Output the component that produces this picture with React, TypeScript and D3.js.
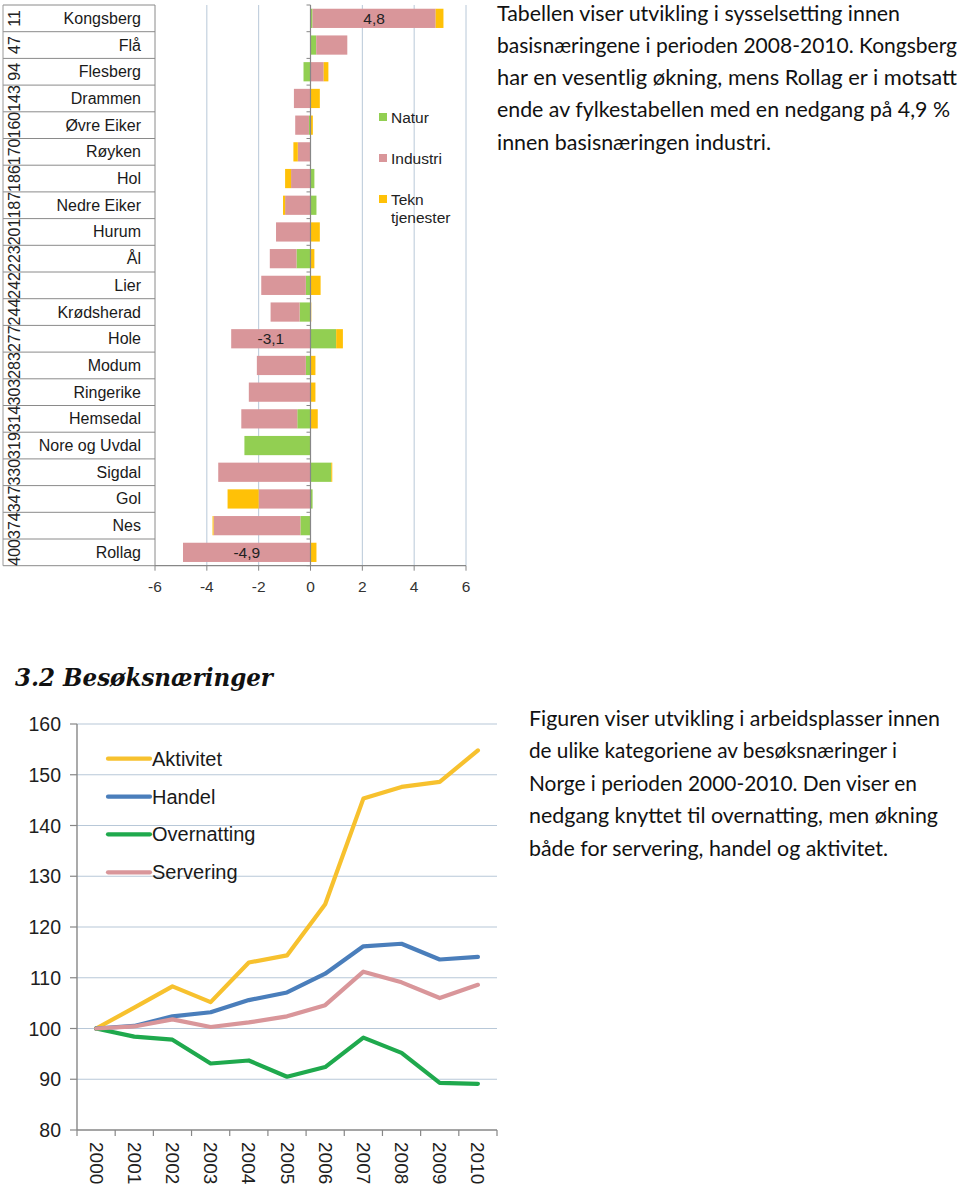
import React from 'react';
import * as d3 from 'd3';

// ---------- Bar chart data (utvikling sysselsetting basisnæringer 2008-2010) ----------
const kommuner = ['Kongsberg', 'Flå', 'Flesberg', 'Drammen', 'Øvre Eiker', 'Røyken', 'Hol', 'Nedre Eiker', 'Hurum', 'Ål', 'Lier', 'Krødsherad', 'Hole', 'Modum', 'Ringerike', 'Hemsedal', 'Nore og Uvdal', 'Sigdal', 'Gol', 'Nes', 'Rollag'];
const rangNr = ['11', '47', '94', '143', '160', '170', '186', '187', '201', '223', '242', '244', '277', '283', '303', '314', '319', '330', '347', '374', '400'];
const natur = [0.08, 0.22, -0.27, 0, -0.06, 0, 0.15, 0.23, 0, -0.54, -0.18, -0.42, 0.99, -0.18, 0, -0.51, -2.55, 0.8, 0.08, -0.39, 0];
const industri = [4.75, 1.2, 0.51, -0.64, -0.53, -0.49, -0.75, -0.98, -1.33, -1.03, -1.72, -1.12, -3.06, -1.89, -2.38, -2.16, 0, -3.56, -2.0, -3.35, -4.92];
const teknTjenester = [0.3, 0, 0.18, 0.36, 0.09, -0.17, -0.23, -0.08, 0.36, 0.15, 0.39, 0.03, 0.26, 0.19, 0.19, 0.28, 0, 0.04, -1.2, -0.04, 0.23];
const barSeries = ['Natur', 'Industri', 'Tekn tjenester'];
const barColors = ['#92cf52', '#d9969a', '#ffc107'];
const barTicks = [-6, -4, -2, 0, 2, 4, 6];
const labelledKommuner = ['Kongsberg', 'Hole', 'Rollag'];

// ---------- Line chart data (besøksnæringer 2000-2010, indeks 2000=100) ----------
const years = ['2000', '2001', '2002', '2003', '2004', '2005', '2006', '2007', '2008', '2009', '2010'];
const aktivitet = [100, 104.1, 108.3, 105.2, 113.0, 114.4, 124.5, 145.3, 147.6, 148.6, 154.8];
const handel = [100, 100.5, 102.4, 103.2, 105.6, 107.1, 110.8, 116.2, 116.7, 113.6, 114.1];
const overnatting = [100, 98.4, 97.8, 93.1, 93.7, 90.5, 92.4, 98.2, 95.2, 89.3, 89.1];
const servering = [100, 100.4, 101.8, 100.3, 101.2, 102.4, 104.6, 111.2, 109.1, 106.0, 108.6];
const lineNames = ['Aktivitet', 'Handel', 'Overnatting', 'Servering'];
const lineColors = ['#f7c12e', '#4a7ebb', '#1fa94d', '#d9969a'];
const lineTicks = [80, 90, 100, 110, 120, 130, 140, 150, 160];

// ---------- Texts ----------
const introLines = [
  'Tabellen viser utvikling i sysselsetting innen',
  'basisnæringene i perioden 2008-2010. Kongsberg',
  'har en vesentlig økning, mens Rollag er i motsatt',
  'ende av fylkestabellen med en nedgang på 4,9 %',
  'innen basisnæringen industri.',
];
const heading = '3.2 Besøksnæringer';
const figLines = [
  'Figuren viser utvikling i arbeidsplasser innen',
  'de ulike kategoriene av besøksnæringer i',
  'Norge i perioden 2000-2010. Den viser en',
  'nedgang knyttet til overnatting, men økning',
  'både for servering, handel og aktivitet.',
];

// layout (widths measured from reference)
const introWidths = [403, 460, 460, 453, 274];
const figWidths = [411, 368, 388, 409, 359];

const SANS = '"Liberation Sans", Arial, sans-serif';
const BODY = 'Lato, "Open Sans", sans-serif';

const noLocale = d3.formatLocale({ decimal: ',', thousands: ' ', grouping: [3], currency: ['', ' kr'], minus: '-' });

function BarChart() {
  const x = d3.scaleLinear().domain([-6, 6]).range([155, 466]);
  const y = d3.scaleBand<string>().domain(kommuner).range([5, 565.7]).paddingInner(0.28).paddingOuter(0.14);
  const step = y.step();
  const rows = kommuner.map((k, i) => ({
    k,
    Natur: natur[i],
    Industri: industri[i],
    'Tekn tjenester': teknTjenester[i],
  }));
  const stacked = d3.stack<any>().keys(barSeries).offset(d3.stackOffsetDiverging)(rows);
  const top = y.range()[0];
  const bottom = y.range()[1];
  const boundaries = d3.range(kommuner.length + 1).map((i) => top + i * step);
  const fmt = noLocale.format('.1f');

  return (
    <g>
      {/* gridlines */}
      {barTicks.filter((t) => t !== 0 && t !== -6).map((t) => (
        <line key={'g' + t} x1={x(t)} x2={x(t)} y1={top} y2={bottom} stroke="#b8c8d8" strokeWidth={1} />
      ))}
      {/* table lines */}
      {boundaries.map((b, i) => (
        <line key={'r' + i} x1={3} x2={155} y1={b} y2={b} stroke="#8a8a8a" strokeWidth={1} />
      ))}
      <line x1={3} x2={3} y1={top} y2={bottom} stroke="#9a9a9a" strokeWidth={1} />
      <line x1={155} x2={155} y1={top} y2={bottom} stroke="#8a8a8a" strokeWidth={1} />
      {/* bars */}
      {stacked.map((s, si) => (
        <g key={s.key} fill={barColors[si]}>
          {s.map((d, i) => {
            const x0 = x(Math.min(d[0], d[1]));
            const x1 = x(Math.max(d[0], d[1]));
            if (x1 - x0 <= 0) return null;
            return <rect key={i} x={x0} width={x1 - x0} y={y(d.data.k)} height={y.bandwidth()} />;
          })}
        </g>
      ))}
      {/* data labels for industri */}
      {stacked[1].map((d, i) =>
        labelledKommuner.includes(d.data.k) ? (
          <text key={'l' + i} x={x((d[0] + d[1]) / 2)} y={(y(d.data.k) as number) + y.bandwidth() / 2 + 5.5}
            textAnchor="middle" fontFamily={SANS} fontSize={15.5} fill="#222">
            {fmt(industri[i])}
          </text>
        ) : null
      )}
      {/* zero axis */}
      <line x1={x(0)} x2={x(0)} y1={top} y2={bottom} stroke="#878787" strokeWidth={1.2} />
      {boundaries.map((b, i) => (
        <line key={'zt' + i} x1={x(0) - 4} x2={x(0)} y1={b} y2={b} stroke="#878787" strokeWidth={1} />
      ))}
      {/* bottom axis */}
      <line x1={x(-6)} x2={x(6)} y1={bottom} y2={bottom} stroke="#878787" strokeWidth={1.2} />
      {barTicks.map((t) => (
        <g key={'t' + t}>
          <line x1={x(t)} x2={x(t)} y1={bottom} y2={bottom + 5} stroke="#878787" strokeWidth={1} />
          <text x={x(t)} y={bottom + 26} textAnchor="middle" fontFamily={SANS} fontSize={15.5} fill="#333">
            {noLocale.format('d')(t)}
          </text>
        </g>
      ))}
      {/* category labels */}
      {kommuner.map((k) => (
        <text key={'c' + k} x={141} y={(y(k) as number) + y.bandwidth() / 2 + 5.5} textAnchor="end"
          fontFamily={SANS} fontSize={16} fill="#1a1a1a">
          {k}
        </text>
      ))}
      {/* rotated numbers */}
      {kommuner.map((k, i) => {
        const cy = (y(k) as number) + y.bandwidth() / 2;
        return (
          <text key={'n' + k} transform={`translate(14,${cy}) rotate(-90)`} textAnchor="middle"
            dominantBaseline="central" fontFamily={SANS} fontSize={16} fill="#222">
            {rangNr[i]}
          </text>
        );
      })}
      {/* legend */}
      {barSeries.map((s, i) => {
        const cy = [117, 158, 199][i];
        const words = s === 'Tekn tjenester' ? ['Tekn', 'tjenester'] : [s];
        return (
          <g key={'lg' + s}>
            <rect x={379} y={cy - 4} width={8} height={8} fill={barColors[i]} />
            {words.map((w, wi) => (
              <text key={w} x={391} y={cy + 5.5 + wi * 18} fontFamily={SANS} fontSize={15.5} fill="#222">
                {w}
              </text>
            ))}
          </g>
        );
      })}
    </g>
  );
}

function LineChart() {
  const x = d3.scaleBand<string>().domain(years).range([77, 497]);
  const cx = (yr: string) => (x(yr) as number) + x.bandwidth() / 2;
  const y = d3.scaleLinear().domain([80, 160]).range([1130, 724]);
  const seriesData = [aktivitet, handel, overnatting, servering];
  const line = d3.line<number>().x((_, i) => cx(years[i])).y((v) => y(v));
  const legendY = [758.7, 796.7, 834.3, 872.3];
  const bottom = y(80);
  const ticksX = d3.range(years.length + 1).map((i) => 77 + i * x.step());
  return (
    <g>
      {lineTicks.filter((t) => t !== 80).map((t) => (
        <line key={'g' + t} x1={77} x2={497} y1={y(t)} y2={y(t)} stroke="#b8c8d8" strokeWidth={1.2} />
      ))}
      {lineTicks.map((t) => (
        <g key={'yt' + t}>
          <line x1={70} x2={77} y1={y(t)} y2={y(t)} stroke="#878787" strokeWidth={1.2} />
          <text x={61} y={y(t) + 7} textAnchor="end" fontFamily={SANS} fontSize={19.5} fill="#1e1e1e">
            {t}
          </text>
        </g>
      ))}
      <line x1={77} x2={77} y1={y(160)} y2={bottom} stroke="#878787" strokeWidth={1.4} />
      <line x1={77} x2={497} y1={bottom} y2={bottom} stroke="#878787" strokeWidth={1.4} />
      {ticksX.map((tx, i) => (
        <line key={'xt' + i} x1={tx} x2={tx} y1={bottom} y2={bottom + 6} stroke="#878787" strokeWidth={1.2} />
      ))}
      {years.map((yr) => (
        <text key={'yl' + yr} transform={`translate(${cx(yr)},${bottom + 12}) rotate(90)`} textAnchor="start"
          dominantBaseline="central" fontFamily={SANS} fontSize={19} fill="#1e1e1e">
          {yr}
        </text>
      ))}
      {seriesData.map((s, i) => (
        <path key={'p' + i} d={line(s) as string} fill="none" stroke={lineColors[i]} strokeWidth={4.2}
          strokeLinejoin="round" strokeLinecap="round" />
      ))}
      {lineNames.map((n, i) => (
        <g key={'lg' + n}>
          <line x1={108} x2={150} y1={legendY[i]} y2={legendY[i]} stroke={lineColors[i]} strokeWidth={4.2}
            strokeLinecap="round" />
          <text x={152} y={legendY[i] + 7} fontFamily={SANS} fontSize={20} fill="#1a1a1a">
            {n}
          </text>
        </g>
      ))}
    </g>
  );
}

export default function App() {
  return (
    <svg width={960} height={1193} viewBox="0 0 960 1193"
      style={{ position: 'absolute', left: 0, top: 0, background: '#fff', display: 'block' }}>
      <rect x={0} y={0} width={960} height={1193} fill="#fff" />
      <BarChart />
      {introLines.map((l, i) => (
        <text key={'i' + i} x={497} y={20.5 + i * 32.3} textLength={introWidths[i]} lengthAdjust="spacingAndGlyphs"
          fontFamily={BODY} fontSize={21} fill="#111">
          {l}
        </text>
      ))}
      <text x={15} y={686} textLength={258} lengthAdjust="spacingAndGlyphs" fontFamily='"DejaVu Serif", serif'
        fontWeight="bold" fontStyle="italic" fontSize={24} fill="#111">
        {heading}
      </text>
      <LineChart />
      {figLines.map((l, i) => (
        <text key={'f' + i} x={529} y={726 + i * 32.4} textLength={figWidths[i]} lengthAdjust="spacingAndGlyphs"
          fontFamily={BODY} fontSize={21} fill="#111">
          {l}
        </text>
      ))}
    </svg>
  );
}
